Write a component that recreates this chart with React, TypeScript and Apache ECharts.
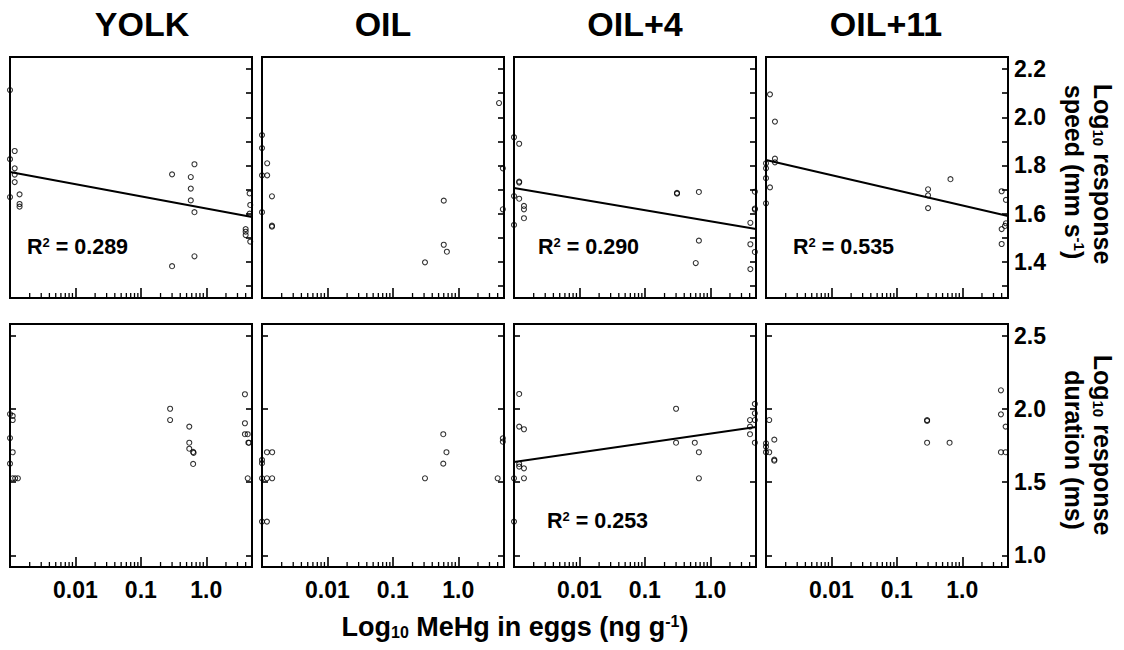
import React, { useEffect, useRef } from "react";
import * as echarts from "echarts";

// ---------- data ----------
const panelTitles = ["YOLK", "OIL", "OIL+4", "OIL+11"];

// top row: log10 response speed (mm s-1) vs MeHg in eggs (ng g-1)
const yolkSpeed = [
  [0.001, 2.113], [0.00118, 1.86], [0.001, 1.826], [0.00118, 1.788], [0.00118, 1.762],
  [0.00118, 1.731], [0.001, 1.669], [0.0014, 1.68], [0.0014, 1.64], [0.0014, 1.629],
  [0.3, 1.763], [0.58, 1.752], [0.66, 1.805], [0.58, 1.704], [0.58, 1.655], [0.66, 1.606],
  [0.66, 1.423], [0.3, 1.382], [4.6, 1.684], [4.7, 1.636], [4.6, 1.6], [4.0, 1.536],
  [4.0, 1.525], [4.0, 1.511], [4.7, 1.484],
];
const oilSpeed = [
  [0.001, 1.926], [0.001, 1.872], [0.0012, 1.809], [0.001, 1.759], [0.0012, 1.759],
  [0.00142, 1.672], [0.001, 1.606], [0.00142, 1.55], [0.00142, 1.546], [0.6, 1.654],
  [0.6, 1.471], [0.67, 1.442], [0.31, 1.398], [4.2, 2.059], [4.8, 1.788], [4.8, 1.618],
];
const oil4Speed = [
  [0.001, 1.917], [0.0012, 1.89], [0.0012, 1.733], [0.0012, 1.729], [0.001, 1.673],
  [0.0012, 1.662], [0.00142, 1.632], [0.00142, 1.618], [0.00142, 1.581], [0.001, 1.553],
  [0.31, 1.686], [0.31, 1.683], [0.67, 1.69], [0.67, 1.488], [0.6, 1.395], [4.8, 1.691],
  [4.8, 1.621], [4.8, 1.617], [4.1, 1.562], [4.1, 1.473], [4.8, 1.441], [4.1, 1.37],
];
const oil11Speed = [
  [0.00115, 2.095], [0.00137, 1.982], [0.00137, 1.828], [0.00137, 1.813], [0.001, 1.809],
  [0.001, 1.788], [0.001, 1.747], [0.00115, 1.709], [0.001, 1.643], [0.3, 1.701],
  [0.3, 1.676], [0.3, 1.623], [0.66, 1.743], [4.0, 1.693], [4.65, 1.657], [4.65, 1.56],
  [4.5, 1.549], [4.0, 1.536], [4.0, 1.474],
];

// bottom row: log10 response duration (ms)
const yolkDuration = [
  [0.001, 1.965], [0.0011, 1.952], [0.0011, 1.924], [0.001, 1.801], [0.0011, 1.704],
  [0.001, 1.626], [0.0011, 1.526], [0.0012, 1.526], [0.00132, 1.526], [0.28, 2.001],
  [0.28, 1.924], [0.55, 1.879], [0.55, 1.769], [0.55, 1.728], [0.63, 1.706], [0.64, 1.7],
  [0.63, 1.624], [3.9, 2.1], [3.9, 1.902], [3.9, 1.827], [4.3, 1.827], [4.4, 1.769],
  [4.5, 1.769], [4.3, 1.526],
];
const oilDuration = [
  [0.001, 1.651], [0.001, 1.629], [0.00119, 1.704], [0.00143, 1.704], [0.001, 1.526],
  [0.00119, 1.526], [0.00143, 1.526], [0.001, 1.23], [0.00119, 1.23], [0.59, 1.827],
  [0.66, 1.704], [0.59, 1.626], [0.31, 1.526], [4.8, 1.799], [4.8, 1.776], [4.0, 1.526],
];
const oil4Duration = [
  [0.0012, 2.102], [0.0012, 1.879], [0.00142, 1.861], [0.0012, 1.624], [0.0012, 1.606],
  [0.00142, 1.594], [0.001, 1.526], [0.00142, 1.526], [0.001, 1.23], [0.3, 2.001],
  [0.3, 1.769], [0.58, 1.769], [0.67, 1.704], [0.67, 1.526], [4.8, 2.034], [4.8, 1.97],
  [4.05, 1.924], [4.8, 1.924], [4.05, 1.879], [4.05, 1.827], [4.8, 1.769],
];
const oil11Duration = [
  [0.00112, 1.924], [0.001, 1.765], [0.001, 1.742], [0.001, 1.704], [0.00112, 1.704],
  [0.00134, 1.79], [0.00134, 1.653], [0.00134, 1.646], [0.29, 1.924], [0.29, 1.918],
  [0.29, 1.769], [0.64, 1.769], [3.9, 2.127], [3.9, 1.963], [4.6, 1.879], [3.9, 1.704],
  [4.6, 1.704],
];

// regression lines
const yolkSpeedFit = [[0.001, 1.773], [5, 1.586]];
const oil4SpeedFit = [[0.001, 1.706], [5, 1.536]];
const oil11SpeedFit = [[0.001, 1.823], [5, 1.59]];
const oil4DurationFit = [[0.001, 1.637], [5, 1.876]];

const speedR2 = ["0.289", null, "0.290", "0.535"];
const durationR2 = [null, null, "0.253", null];

// axes
const xMin = 0.001;
const xMax = 5;
const xTickLabels: Record<string, string> = { "-2": "0.01", "-1": "0.1", "0": "1.0" };
const xMinorTicks = [
  0.002, 0.003, 0.004, 0.005, 0.006, 0.007, 0.008, 0.009,
  0.02, 0.03, 0.04, 0.05, 0.06, 0.07, 0.08, 0.09,
  0.2, 0.3, 0.4, 0.5, 0.6, 0.7, 0.8, 0.9,
  2, 3, 4,
];
const speedTicks = [1.3, 1.4, 1.5, 1.6, 1.7, 1.8, 1.9, 2.0, 2.1, 2.2];
const speedLabels = [1.4, 1.6, 1.8, 2.0, 2.2];
const durationTicks = [1.0, 1.5, 2.0, 2.5];
const durationLabels = [1.0, 1.5, 2.0, 2.5];

// ---------- layout ----------
const FONT = "'Liberation Sans', Arial, Helvetica, sans-serif";
const GL = [10, 262, 514, 766];
const GW = 242;
const ROW_TOP = [57, 324];
const ROW_H = [241, 243];
const TITLE_X = [142, 383, 635, 886];

function buildOption() {
  const grid: any[] = [];
  const xAxis: any[] = [];
  const yAxis: any[] = [];
  const series: any[] = [];
  const graphic: any[] = [];

  const rows = [
    {
      data: [yolkSpeed, oilSpeed, oil4Speed, oil11Speed],
      fits: [yolkSpeedFit, null, oil4SpeedFit, oil11SpeedFit],
      r2: speedR2,
      r2Pos: [247, 247, 247, 247],
      r2Off: [17, 17, 24, 27],
      min: 1.25,
      max: 2.25,
      ticks: speedTicks,
      labels: speedLabels,
      leftTicks: false,
    },
    {
      data: [yolkDuration, oilDuration, oil4Duration, oil11Duration],
      fits: [null, null, oil4DurationFit, null],
      r2: durationR2,
      r2Pos: [521, 521, 521, 521],
      r2Off: [33, 33, 33, 33],
      min: 0.92,
      max: 2.58,
      ticks: durationTicks,
      labels: durationLabels,
      leftTicks: true,
    },
  ];

  const tickLine = { color: "#000", width: 1.6 };

  rows.forEach((row, r) => {
    for (let c = 0; c < 4; c++) {
      const gi = r * 4 + c;
      grid.push({
        left: GL[c],
        top: ROW_TOP[r],
        width: GW,
        height: ROW_H[r],
        show: true,
        borderColor: "#000",
        borderWidth: 2,
        backgroundColor: "transparent",
        containLabel: false,
        outerBoundsMode: "none",
      });
      xAxis.push({
        type: "log",
        logBase: 10,
        gridIndex: gi,
        min: xMin,
        max: xMax,
        axisLine: { show: false },
        splitLine: { show: false },
        axisTick: { show: true, inside: true, length: 10, lineStyle: tickLine },
        axisLabel: {
          show: r === 1,
          margin: 11,
          color: "#000",
          fontFamily: FONT,
          fontWeight: "bold",
          fontSize: 23,
          showMinLabel: false,
          showMaxLabel: false,
          formatter: (v: number) => {
            const l = Math.log10(v);
            const e = Math.round(l);
            if (Math.abs(l - e) > 1e-6) return "";
            return xTickLabels[String(e)] ?? "";
          },
        },
      });
      const yIdx = yAxis.length;
      yAxis.push({
        type: "value",
        gridIndex: gi,
        position: "right",
        min: row.min,
        max: row.max,
        axisLine: { show: false },
        splitLine: { show: false },
        axisTick: { show: true, inside: true, length: 6, customValues: row.ticks, lineStyle: tickLine },
        axisLabel: {
          show: c === 3,
          customValues: row.labels,
          margin: 6,
          color: "#000",
          fontFamily: FONT,
          fontWeight: "bold",
          fontSize: 23,
          formatter: (v: number) => v.toFixed(1),
        },
      });
      if (row.leftTicks) {
        yAxis.push({
          type: "value",
          gridIndex: gi,
          position: "left",
          min: row.min,
          max: row.max,
          axisLine: { show: false },
          splitLine: { show: false },
          axisTick: { show: true, inside: true, length: 6, customValues: row.ticks, lineStyle: tickLine },
          axisLabel: { show: false },
        });
      }
      // minor log ticks on the bottom edge
      const yMinVal = row.min;
      series.push({
        type: "custom",
        xAxisIndex: gi,
        yAxisIndex: yIdx,
        silent: true,
        clip: false,
        data: xMinorTicks.map((v) => [v, yMinVal]),
        renderItem: (params: any, api: any) => {
          const p = api.coord([api.value(0), api.value(1)]);
          return {
            type: "line",
            shape: { x1: p[0], y1: p[1], x2: p[0], y2: p[1] - 5 },
            style: { stroke: "#000", lineWidth: 1.3 },
          };
        },
      });
      series.push({
        type: "scatter",
        xAxisIndex: gi,
        yAxisIndex: yIdx,
        data: row.data[c],
        symbol: "circle",
        symbolSize: 5,
        clip: false,
        silent: true,
        itemStyle: { color: "rgba(255,255,255,0)", borderColor: "#000", borderWidth: 1.1 },
      });
      const fit = row.fits[c];
      if (fit) {
        series.push({
          type: "line",
          xAxisIndex: gi,
          yAxisIndex: yIdx,
          data: fit,
          symbol: "none",
          silent: true,
          lineStyle: { color: "#000", width: 2 },
        });
      }
      const r2 = row.r2[c];
      if (r2) {
        graphic.push({
          type: "text",
          x: GL[c] + row.r2Off[c],
          y: row.r2Pos[c],
          silent: true,
          style: {
            text: `{b|R}{s|2}{b| = ${r2}}`,
            align: "left",
            verticalAlign: "middle",
            fill: "#000",
            rich: {
              b: { fontFamily: FONT, fontWeight: "bold", fontSize: 21.5, fill: "#000" },
              s: { fontFamily: FONT, fontWeight: "bold", fontSize: 13, fill: "#000", verticalAlign: "top" },
            },
          },
        });
      }
    }
  });

  panelTitles.forEach((t, i) => {
    graphic.push({
      type: "text",
      x: TITLE_X[i],
      y: 24,
      silent: true,
      style: {
        text: t,
        align: "center",
        verticalAlign: "middle",
        fill: "#000",
        font: `bold 34px ${FONT}`,
      },
    });
  });

  const nameRich = {
    b: { fontFamily: FONT, fontWeight: "bold", fontSize: 25, fill: "#000" },
    sub: { fontFamily: FONT, fontWeight: "bold", fontSize: 15, fill: "#000", verticalAlign: "bottom" },
    sup: { fontFamily: FONT, fontWeight: "bold", fontSize: 15, fill: "#000", verticalAlign: "top" },
  };
  const rotText = (x: number, y: number, text: string) => ({
    type: "text",
    x,
    y,
    rotation: -Math.PI / 2,
    silent: true,
    style: { text, align: "center", verticalAlign: "middle", fill: "#000", rich: nameRich },
  });
  graphic.push(rotText(1103, 174, "{b|Log}{sub|10}{b| response}"));
  graphic.push(rotText(1074, 172, "{b|speed (mm s}{sup|-1}{b|)}"));
  graphic.push(rotText(1103, 445, "{b|Log}{sub|10}{b| response}"));
  graphic.push(rotText(1074, 450, "{b|duration (ms)}"));

  graphic.push({
    type: "text",
    x: 515,
    y: 627,
    silent: true,
    style: {
      text: "{b|Log}{sub|10}{b| MeHg in eggs (ng g}{sup|-1}{b|)}",
      align: "center",
      verticalAlign: "middle",
      fill: "#000",
      rich: {
        b: { fontFamily: FONT, fontWeight: "bold", fontSize: 27, fill: "#000" },
        sub: { fontFamily: FONT, fontWeight: "bold", fontSize: 16, fill: "#000", verticalAlign: "bottom" },
        sup: { fontFamily: FONT, fontWeight: "bold", fontSize: 16, fill: "#000", verticalAlign: "top" },
      },
    },
  });

  return {
    animation: false,
    backgroundColor: "#fff",
    grid,
    xAxis,
    yAxis,
    series,
    graphic,
  };
}

export default function App() {
  const ref = useRef<HTMLDivElement>(null);
  useEffect(() => {
    if (!ref.current) return;
    const chart = echarts.init(ref.current, null, { renderer: "svg" });
    chart.setOption(buildOption() as any);
    return () => chart.dispose();
  }, []);
  return (
    <div
      ref={ref}
      style={{ position: "fixed", left: 0, top: 0, width: 1124, height: 650, background: "#fff" }}
    />
  );
}
